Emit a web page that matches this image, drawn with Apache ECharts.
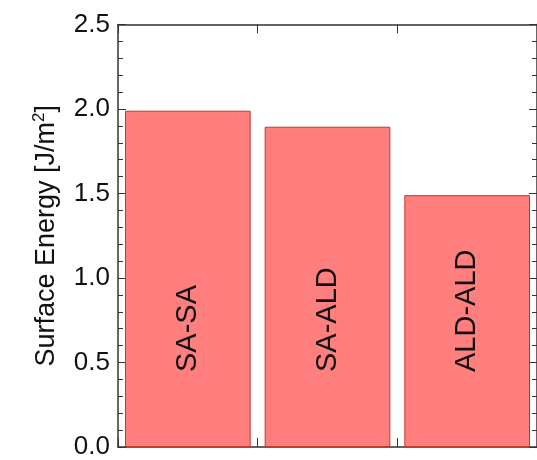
<!DOCTYPE html>
<html>
<head>
<meta charset="utf-8">
<script src="https://cdn.jsdelivr.net/npm/echarts@6/dist/echarts.min.js"></script>
<style>html,body{margin:0;padding:0;background:#fff;}#c{width:537px;height:460px;}</style>
</head>
<body>
<div id="c"></div>
<script>
const categories = ['SA-SA', 'SA-ALD', 'ALD-ALD'];
const energies = [1.99, 1.895, 1.49];
const yMin = 0, yMax = 2.5, yStep = 0.5;
const yTitleMain = 'Surface Energy [J/m';
const yTitleSup = '2';

const font = 'Liberation Sans, Arial, sans-serif';
const chart = echarts.init(document.getElementById('c'), null, {renderer: 'canvas'});
const axisColor = '#333';
chart.setOption({
  animation: false,
  backgroundColor: '#fff',
  grid: {left: 118, top: 24.5, width: 421.5, bottom: 12.5, containLabel: false},
  xAxis: [{
    type: 'category', data: categories, position: 'bottom',
    axisLine: {onZero: false, lineStyle: {color: axisColor, width: 1.5}},
    axisTick: {show: true, inside: true, length: 9, lineStyle: {color: axisColor}},
    axisLabel: {show: false}, splitLine: {show: false}
  }, {
    type: 'category', data: categories, position: 'top',
    axisLine: {show: true, onZero: false, lineStyle: {color: axisColor, width: 1.5}},
    axisTick: {show: true, inside: true, length: 9, lineStyle: {color: axisColor}},
    axisLabel: {show: false}
  }],
  yAxis: [{
    type: 'value', min: yMin, max: yMax, interval: yStep,
    name: '{a|' + yTitleMain + '}{s|' + yTitleSup + '}{a|]}',
    nameLocation: 'middle', nameGap: 56, nameRotate: 90,
    nameTextStyle: {
      rich: {
        a: {fontFamily: font, fontSize: 27, color: '#111', lineHeight: 30},
        s: {fontFamily: font, fontSize: 17, color: '#111', padding: [0, 0, 14, 0]}
      }
    },
    axisLine: {show: true, onZero: false, lineStyle: {color: axisColor, width: 1.5}},
    axisTick: {show: true, inside: true, length: 8, lineStyle: {color: axisColor}},
    minorTick: {show: true, splitNumber: 5, length: 5, lineStyle: {color: axisColor}},
    axisLabel: {fontFamily: font, fontSize: 26, color: '#111', margin: 8,
      formatter: v => v.toFixed(1)},
    splitLine: {show: false}
  }, {
    type: 'value', min: yMin, max: yMax, interval: yStep, position: 'right',
    axisLine: {show: true, onZero: false, lineStyle: {color: axisColor, width: 1.5}},
    axisTick: {show: true, inside: true, length: 8, lineStyle: {color: axisColor}},
    minorTick: {show: true, splitNumber: 5, length: 5, lineStyle: {color: axisColor}},
    axisLabel: {show: false}, splitLine: {show: false}
  }],
  series: [{
    type: 'bar',
    data: energies,
    barCategoryGap: '10%',
    itemStyle: {color: '#ff7f7f', borderColor: '#c0392b', borderWidth: 1},
    label: {
      show: true, position: 'insideBottom', distance: 75, rotate: 90,
      align: 'left', verticalAlign: 'middle',
      formatter: p => categories[p.dataIndex],
      fontFamily: font, fontSize: 29, color: '#111'
    }
  }]
});
</script>
</body>
</html>
